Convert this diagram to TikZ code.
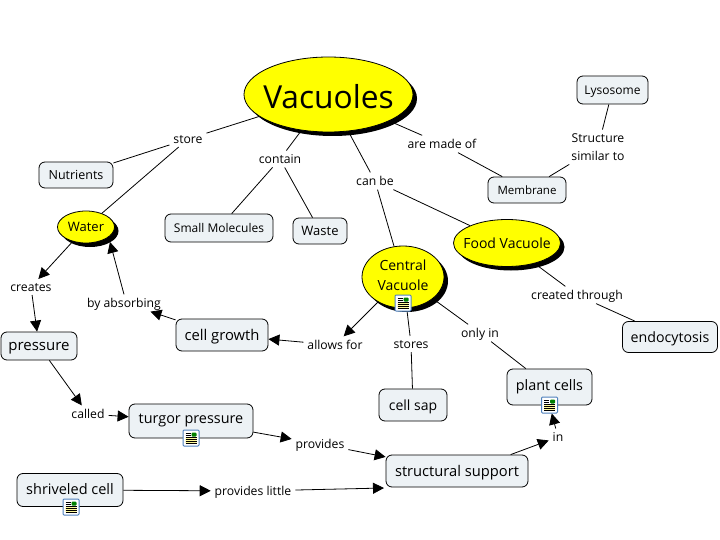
\documentclass[tikz,border=0pt]{standalone}
\usepackage{fontspec}
\setmainfont{Open Sans}
\usepackage{xcolor}
\usetikzlibrary{positioning, arrows.meta, shapes.geometric, shadows}

\definecolor{conceptfill}{HTML}{EDF2F5}
\definecolor{ovalfill}{HTML}{FFFF00}
\definecolor{iconblue}{HTML}{4F81BD}

\begin{document}
\begin{tikzpicture}[
    x=1pt, y=-1pt,
    concept/.style={rectangle, draw, line width=0.8pt, rounded corners=6pt, fill=conceptfill, align=center, inner sep=0pt, text depth=0pt},
    oval/.style={ellipse, draw, line width=0.8pt, fill=ovalfill, align=center, inner sep=-10pt, drop shadow={shadow xshift=4pt, shadow yshift=-4pt, fill=black, opacity=1}},
    lbl/.style={align=center, inner sep=2pt, outer sep=2pt, text depth=0pt, font=\fontsize{12.2}{18}\selectfont},
    line/.style={line width=0.8pt},
    arr/.style={line width=0.8pt, -{Triangle[length=11pt, width=11pt]}},
    docicon/.style={rectangle, draw=iconblue, line width=1pt, rounded corners=1pt, fill=white, minimum size=16pt, inner sep=0pt,
        path picture={
            \fill[yellow!40] (path picture bounding box.south west) ++(2.5pt,2.5pt) rectangle ++(11pt,6pt);
            \foreach \k in {3,5,7,9}
                \draw[black, line width=0.7pt] (path picture bounding box.south west) ++(2.5pt,\k pt) -- ++(11pt,0);
            \draw[black, line width=0.7pt] (path picture bounding box.north west) ++(2.5pt,-3pt) -- ++(5pt,0);
            \draw[black, line width=0.7pt] (path picture bounding box.north west) ++(2.5pt,-5pt) -- ++(5pt,0);
            \fill[green!50!black] (path picture bounding box.north east) ++(-7.5pt,-2.5pt) rectangle ++(5pt,-4pt);
        }},
]
\useasboundingbox (0,0) rectangle (720,540);
\fill[white] (0,0) rectangle (720,540);

% ovals
\node[oval, minimum width=169pt, minimum height=75pt, text height=28pt, font=\fontsize{31.7}{36}\selectfont] (vacuoles) at (328.5,94.5) {Vacuoles};
\node[oval, minimum width=57pt, minimum height=32pt, font=\fontsize{13}{14}\selectfont] (water) at (86,227) {Water};
\node[oval, minimum width=107pt, minimum height=47pt, font=\fontsize{14}{15}\selectfont] (food) at (507,243) {Food Vacuole};
\node[oval, minimum width=82pt, minimum height=62pt, font=\fontsize{14}{20}\selectfont] (central) at (403,277) {\raisebox{3pt}{Central}\\\raisebox{3pt}{Vacuole}};

% concepts
\node[concept, minimum width=71pt, minimum height=28pt, font=\fontsize{12}{14}\selectfont] (lysosome) at (612.5,90) {Lysosome};
\node[concept, minimum width=78pt, minimum height=26pt, font=\fontsize{11.5}{14}\selectfont] (membrane) at (527,190) {Membrane};
\node[concept, minimum width=74pt, minimum height=26pt, font=\fontsize{12.5}{14}\selectfont] (nutrients) at (76,175) {Nutrients};
\node[concept, minimum width=108pt, minimum height=28pt, font=\fontsize{12}{14}\selectfont] (molecules) at (219,228) {Small Molecules};
\node[concept, minimum width=54pt, minimum height=26pt, font=\fontsize{13}{14}\selectfont] (waste) at (320,231) {Waste};
\node[concept, minimum width=76pt, minimum height=28pt, font=\fontsize{15}{16}\selectfont] (pressure) at (39,346) {pressure};
\node[concept, minimum width=92pt, minimum height=32pt, font=\fontsize{14.8}{16}\selectfont] (growth) at (222,335) {cell growth};
\node[concept, minimum width=124pt, minimum height=34pt, font=\fontsize{14.4}{16}\selectfont] (turgor) at (191,421) {\raisebox{4pt}{turgor pressure}};
\node[concept, minimum width=106pt, minimum height=33pt, font=\fontsize{14.5}{16}\selectfont] (shriveled) at (70,490) {\raisebox{2pt}{shriveled cell}};
\node[concept, minimum width=68pt, minimum height=32pt, font=\fontsize{14}{16}\selectfont] (sap) at (413,405) {cell sap};
\node[concept, minimum width=85pt, minimum height=36pt, font=\fontsize{14.4}{16}\selectfont] (plant) at (549.5,387) {\raisebox{3pt}{plant cells}};
\node[concept, minimum width=142pt, minimum height=32pt, font=\fontsize{14.7}{16}\selectfont] (support) at (457,471) {structural support};
\node[concept, minimum width=95pt, minimum height=31pt, font=\fontsize{14.2}{16}\selectfont] (endocytosis) at (670,337) {endocytosis};

% linking phrases
\node[lbl] (store) at (188,139) {store};
\node[lbl] (contain) at (280,159) {contain};
\node[lbl] (madeof) at (442,144) {are made of};
\node[lbl] (canbe) at (375,181) {can be};
\node[lbl] (similar) at (598,147) {Structure\\similar to};
\node[lbl] (creates) at (31,287) {creates};
\node[lbl] (absorbing) at (124,303) {by absorbing};
\node[lbl] (allows) at (335,345) {allows for};
\node[lbl] (stores) at (411,344) {stores};
\node[lbl] (onlyin) at (480,333) {only in};
\node[lbl] (through) at (577,295) {created through};
\node[lbl] (called) at (88,414) {called};
\node[lbl] (provides) at (320,444) {provides};
\node[lbl] (little) at (253,491) {provides little};
\node[lbl] (in) at (558,437) {in};

% free ends
\coordinate (watertip) at (110,242);
\coordinate (supporttip) at (384,488);

% lines
\draw[line] (vacuoles) -- (store);
\draw[line] (store) -- (nutrients);
\draw[line] (store) -- (water);
\draw[line] (vacuoles) -- (contain);
\draw[line] (contain) -- (molecules);
\draw[line] (contain) -- (waste);
\draw[line] (vacuoles) -- (madeof);
\draw[line] (madeof) -- (membrane);
\draw[line] (vacuoles) -- (canbe);
\draw[line] (canbe) -- (central);
\draw[line] (canbe) -- (food);
\draw[line] (lysosome) -- (similar);
\draw[line] (similar) -- (membrane);
\draw[line] (food) -- (through);
\draw[line] (through) -- (endocytosis);
\draw[line] (central) -- (stores);
\draw[line] (stores) -- (sap);
\draw[line] (central) -- (onlyin);
\draw[line] (onlyin) -- (plant);

% arrows
\draw[arr] (central) -- (allows);
\draw[arr] (allows) -- (growth);
\draw[arr] (growth) -- (absorbing);
\draw[arr] (absorbing.north) -- (watertip);
\draw[arr] (water) -- (creates);
\draw[arr] (creates) -- (pressure);
\draw[arr] (pressure) -- (called);
\draw[arr] (called) -- (turgor);
\draw[arr] (turgor) -- (provides);
\draw[arr] (provides) -- (support);
\draw[arr] (shriveled) -- (little);
\draw[arr] (little) -- (supporttip);
\draw[arr] (support.17) -- (in);

% document icons
\node[docicon] (iconcentral) at (403,303) {};
\node[docicon] (iconplant) at (549.5,405) {};
\node[docicon] (iconturgor) at (191,438) {};
\node[docicon] (iconshriveled) at (71,507) {};

\draw[arr] (in) -- (iconplant);
\end{tikzpicture}
\end{document}
